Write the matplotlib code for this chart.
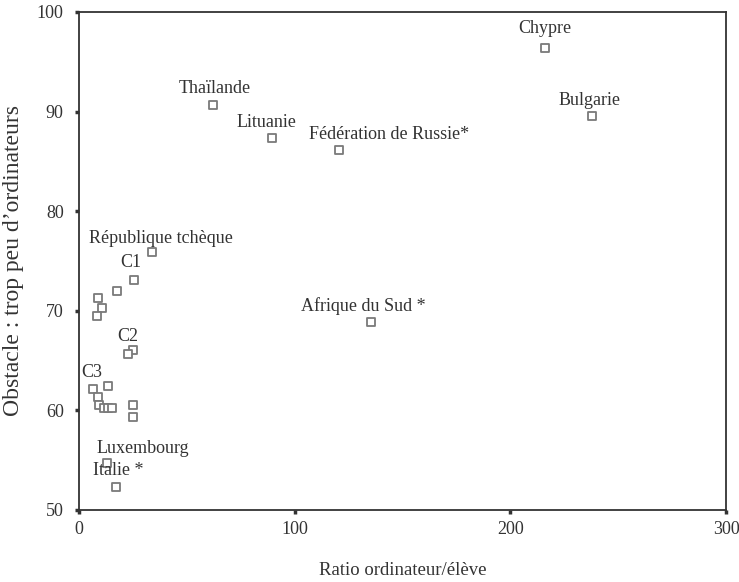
import matplotlib
matplotlib.use("Agg")
import matplotlib.pyplot as plt

# Data
x_vals = [216.0, 237.8, 62.0, 89.5, 120.5, 34.0, 25.5, 17.5, 9.0, 10.5, 8.2,
          135.4, 25.2, 22.9, 6.3, 13.6, 9.0, 9.4, 11.5, 13.5, 15.5, 25.2, 25.2,
          12.8, 17.2]
y_vals = [96.4, 89.6, 90.7, 87.3, 86.1, 75.9, 73.1, 72.0, 71.3, 70.3, 69.5,
          68.9, 66.1, 65.7, 62.1, 62.4, 61.3, 60.5, 60.2, 60.2, 60.2, 60.5, 59.3,
          54.7, 52.3]
labels = ["Chypre", "Bulgarie", "Thaïlande", "Lituanie", "Fédération de Russie*",
          "République tchèque", "C1", "", "", "", "",
          "Afrique du Sud *", "C2", "", "C3", "", "", "", "", "", "", "", "",
          "Luxembourg", "Italie *"]

xticks = [0, 100, 200, 300]
yticks = [50, 60, 70, 80, 90, 100]
xlabel = "Ratio ordinateur/élève"
ylabel = "Obstacle : trop peu d\u2019ordinateurs"

# Label offsets in pixels (layout only)
offsets = {
    "Chypre": (0, 19), "Bulgarie": (-2, 15), "Thaïlande": (2, 16),
    "Lituanie": (-6, 16), "Fédération de Russie*": (50, 16),
    "République tchèque": (9, 14), "C1": (-3, 17), "Afrique du Sud *": (-8, 16),
    "C2": (-6, 13), "C3": (-1, 17), "Luxembourg": (36, 15), "Italie *": (2, 17),
}

plt.rcParams['font.family'] = ['Liberation Serif', 'DejaVu Serif']
fig = plt.figure(figsize=(7.39, 5.82), dpi=100)
ax = fig.add_axes([79/739, 1-510/582, (726-79)/739, (510-12)/582])

txtc = "#333333"
ax.scatter(x_vals, y_vals, marker='s', s=28, facecolors='white',
           edgecolors='#7a7a7a', linewidths=1.3, zorder=3)

for xv, yv, lab in zip(x_vals, y_vals, labels):
    if lab:
        dx, dy = offsets[lab]
        ax.annotate(lab, (xv, yv), xytext=(dx, dy), textcoords='offset pixels',
                    ha='center', va='center', fontsize=13, color=txtc)

ax.set_xlim(0, 300)
ax.set_ylim(50, 100)
ax.set_xticks(xticks)
ax.set_yticks(yticks)
ax.tick_params(direction='out', length=3, width=2.5, color='#333333',
               labelsize=13, labelcolor=txtc, pad=5)
ax.tick_params(axis='y', pad=8)
for sp in ax.spines.values():
    sp.set_color('#333333')
    sp.set_linewidth(1.3)

ax.set_xlabel(xlabel, fontsize=13.5, color=txtc, labelpad=17)
ax.set_ylabel(ylabel, fontsize=17, color=txtc, labelpad=9)

fig.savefig("out.png", dpi=100)
